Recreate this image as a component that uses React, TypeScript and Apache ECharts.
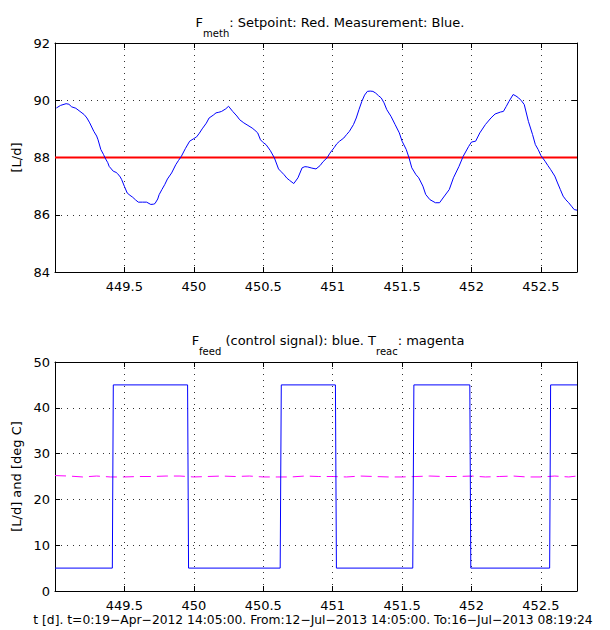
import React, { useEffect, useRef } from 'react';
import * as echarts from 'echarts';

const FONT = 'DejaVu Sans';

// x-axis extent (days since t=0)
const X_MIN = 449;
const X_MAX = 452.76;
const X_STEP = 0.5;

// top panel: F_meth
const TOP_Y_MIN = 84;
const TOP_Y_MAX = 92;
const TOP_Y_STEP = 2;
const setT = [449, 452.76];
const setV = [88, 88];
const measT = [
  449.01, 449.04, 449.08, 449.10, 449.12, 449.15, 449.18, 449.21, 449.23, 449.25,
  449.28, 449.30, 449.31, 449.33, 449.35, 449.36, 449.38, 449.39, 449.42, 449.44,
  449.45, 449.47, 449.48, 449.50, 449.52, 449.54, 449.56, 449.58, 449.60, 449.63,
  449.66, 449.69, 449.71, 449.72, 449.74, 449.75, 449.77, 449.79, 449.81, 449.84,
  449.87, 449.89, 449.91, 449.94, 449.97, 450.00, 450.02, 450.04, 450.06, 450.09,
  450.11, 450.14, 450.16, 450.18, 450.20, 450.23, 450.25, 450.28, 450.31, 450.33,
  450.36, 450.39, 450.42, 450.44, 450.46, 450.48, 450.50, 450.52, 450.55, 450.58,
  450.61, 450.63, 450.65, 450.67, 450.69, 450.72, 450.75, 450.78, 450.80, 450.82,
  450.85, 450.88, 450.91, 450.93, 450.96, 450.98, 451.01, 451.03, 451.05, 451.08,
  451.10, 451.12, 451.15, 451.17, 451.19, 451.21, 451.23, 451.25, 451.27, 451.29,
  451.31, 451.33, 451.35, 451.37, 451.39, 451.42, 451.45, 451.48, 451.50, 451.53,
  451.55, 451.57, 451.60, 451.62, 451.65, 451.67, 451.70, 451.74, 451.77, 451.80,
  451.84, 451.87, 451.91, 451.94, 451.98, 452.00, 452.03, 452.06, 452.10, 452.14,
  452.17, 452.21, 452.23, 452.25, 452.27, 452.30, 452.32, 452.34, 452.36, 452.38,
  452.41, 452.44, 452.46, 452.48, 452.50, 452.53, 452.55, 452.57, 452.60, 452.62,
  452.64, 452.66, 452.68, 452.70, 452.72, 452.74, 452.76,
];
const measV = [
  89.73, 89.82, 89.88, 89.86, 89.77, 89.72, 89.61, 89.50, 89.38, 89.21,
  88.91, 88.75, 88.62, 88.28, 88.10, 87.99, 87.82, 87.69, 87.52, 87.48,
  87.44, 87.32, 87.23, 86.99, 86.76, 86.68, 86.61, 86.52, 86.44, 86.44,
  86.44, 86.36, 86.37, 86.39, 86.55, 86.70, 86.88, 87.05, 87.25, 87.46,
  87.75, 87.90, 88.04, 88.32, 88.57, 88.66, 88.72, 88.85, 89.00, 89.20,
  89.38, 89.48, 89.56, 89.58, 89.61, 89.70, 89.79, 89.61, 89.45, 89.32,
  89.21, 89.12, 89.03, 88.95, 88.86, 88.62, 88.52, 88.45, 88.25, 87.99,
  87.60, 87.50, 87.40, 87.28, 87.20, 87.09, 87.29, 87.64, 87.68, 87.67,
  87.63, 87.60, 87.72, 87.85, 87.99, 88.15, 88.34, 88.48, 88.57, 88.68,
  88.80, 88.91, 89.15, 89.38, 89.68, 89.96, 90.18, 90.31, 90.32, 90.31,
  90.25, 90.16, 90.08, 89.91, 89.67, 89.44, 89.15, 88.86, 88.57, 88.28,
  87.99, 87.64, 87.40, 87.29, 87.00, 86.71, 86.53, 86.42, 86.42, 86.62,
  86.88, 87.29, 87.69, 88.04, 88.39, 88.54, 88.57, 88.86, 89.15, 89.38,
  89.52, 89.59, 89.61, 89.78, 89.96, 90.20, 90.15, 90.08, 89.98, 89.85,
  89.26, 88.80, 88.45, 88.28, 88.07, 87.87, 87.72, 87.58, 87.35, 87.11,
  86.88, 86.65, 86.52, 86.42, 86.30, 86.18, 86.16,
];

// bottom panel: F_feed (control) and T_reac
const BOT_Y_MIN = 0;
const BOT_Y_MAX = 50;
const BOT_Y_STEP = 10;
const feedT = [
  449.0, 449.413, 449.42, 449.955, 449.962, 450.622, 450.63, 451.02, 451.027,
  451.577, 451.585, 451.988, 451.995, 452.563, 452.57, 452.76,
];
const feedV = [5, 5, 45, 45, 5, 5, 45, 45, 5, 5, 45, 45, 5, 5, 45, 45];
const tempT = [
  449.0, 449.1, 449.2, 449.3, 449.4, 449.5, 449.6, 449.7, 449.8, 449.9,
  450.0, 450.1, 450.2, 450.3, 450.4, 450.5, 450.6, 450.7, 450.8, 450.9,
  451.0, 451.1, 451.2, 451.3, 451.4, 451.5, 451.6, 451.7, 451.8, 451.9,
  452.0, 452.1, 452.2, 452.3, 452.4, 452.5, 452.6, 452.7, 452.76,
];
const tempV = [
  25.2, 25.1, 24.9, 25.1, 24.9, 24.9, 25.0, 25.0, 25.1, 25.1,
  24.9, 25.0, 25.1, 25.0, 25.1, 24.9, 24.9, 24.9, 25.1, 25.0,
  25.0, 24.9, 25.1, 25.0, 24.9, 24.9, 25.0, 25.1, 25.0, 25.0,
  25.1, 24.9, 25.0, 25.1, 24.9, 24.9, 25.1, 24.9, 25.1,
];

const TOP_TITLE = '{m|F}{s|meth}{m|: Setpoint: Red. Measurement: Blue.}';
const BOT_TITLE = '{m|F}{s|feed}{m| (control signal): blue. T}{s|reac}{m|: magenta}';
const TOP_YNAME = '[L/d]';
const BOT_YNAME = '[L/d] and [deg C]';
const XNAME =
  't [d]. t=0:19\u2212Apr\u22122012 14:05:00. From:12\u2212Jul\u22122013 14:05:00. To:16\u2212Jul\u22122013 08:19:24';

const zip = (a: number[], b: number[]) => a.map((v, i) => [v, b[i]]);

const gridLine = { show: true, lineStyle: { type: [1, 5] as any, color: '#333', width: 1 } };
const axisLineStyle = { show: true, onZero: false, lineStyle: { color: '#000', width: 1 } };
const tickStyle = { show: true, inside: true, length: 5, lineStyle: { color: '#000', width: 1 } };
const labelFont = { color: '#000', fontFamily: FONT, fontSize: 13 };

function xAxes(gridIndex: number) {
  return [
    {
      type: 'value', gridIndex, position: 'bottom', min: X_MIN, max: X_MAX, interval: X_STEP,
      axisLine: axisLineStyle, axisTick: tickStyle,
      axisLabel: { ...labelFont, margin: 8, showMinLabel: false, showMaxLabel: false },
      splitLine: gridLine,
    },
    {
      type: 'value', gridIndex, position: 'top', min: X_MIN, max: X_MAX, interval: X_STEP,
      axisLine: axisLineStyle, axisTick: tickStyle,
      axisLabel: { show: false }, splitLine: { show: false },
    },
  ];
}

function yAxes(gridIndex: number, min: number, max: number, interval: number, name: string) {
  return [
    {
      type: 'value', gridIndex, position: 'left', min, max, interval,
      axisLine: axisLineStyle, axisTick: tickStyle,
      axisLabel: { ...labelFont, margin: 5 },
      splitLine: gridLine,
      name, nameLocation: 'middle', nameGap: 28, nameRotate: 90,
      nameTextStyle: { ...labelFont },
    },
    {
      type: 'value', gridIndex, position: 'right', min, max, interval,
      axisLine: axisLineStyle, axisTick: tickStyle,
      axisLabel: { show: false }, splitLine: { show: false },
    },
  ];
}

const richTitle = {
  m: { fontFamily: FONT, fontSize: 13, fill: '#000', lineHeight: 26, verticalAlign: 'top' },
  s: { fontFamily: FONT, fontSize: 10, fill: '#000', lineHeight: 26, verticalAlign: 'top', padding: [12, 0, 0, 0] },
};

const option: any = {
  animation: false,
  backgroundColor: '#fff',
  grid: [
    { left: 55, top: 43, width: 522, height: 229, containLabel: false },
    { left: 55, top: 362, width: 522, height: 229, containLabel: false },
  ],
  xAxis: [...xAxes(0), ...xAxes(1)],
  yAxis: [
    ...yAxes(0, TOP_Y_MIN, TOP_Y_MAX, TOP_Y_STEP, TOP_YNAME),
    ...yAxes(1, BOT_Y_MIN, BOT_Y_MAX, BOT_Y_STEP, BOT_YNAME),
  ],
  graphic: [
    {
      type: 'text', x: 330, y: 16, silent: true,
      style: { text: TOP_TITLE, align: 'center', verticalAlign: 'top', rich: richTitle },
    },
    {
      type: 'text', x: 328, y: 334, silent: true,
      style: { text: BOT_TITLE, align: 'center', verticalAlign: 'top', rich: richTitle },
    },
    {
      type: 'text', x: 313, y: 620, silent: true,
      style: { text: XNAME, align: 'center', verticalAlign: 'middle', fontFamily: FONT, fontSize: 12.3, fill: '#000' },
    },
  ],
  series: [
    {
      type: 'line', xAxisIndex: 0, yAxisIndex: 0, data: zip(setT, setV), showSymbol: false,
      lineStyle: { color: '#ff0000', width: 2 }, z: 3,
    },
    {
      type: 'line', xAxisIndex: 0, yAxisIndex: 0, data: zip(measT, measV), showSymbol: false,
      lineStyle: { color: '#0000ff', width: 1 }, z: 4,
    },
    {
      type: 'line', xAxisIndex: 2, yAxisIndex: 2, data: zip(feedT, feedV), showSymbol: false,
      lineStyle: { color: '#0000ff', width: 1 }, z: 4,
    },
    {
      type: 'line', xAxisIndex: 2, yAxisIndex: 2, data: zip(tempT, tempV), showSymbol: false,
      lineStyle: { color: '#ff00ff', width: 1, type: [11, 6] }, z: 3,
    },
  ],
};

export default function App() {
  const ref = useRef<HTMLDivElement>(null);
  useEffect(() => {
    document.body.style.margin = '0';
    const chart = echarts.init(ref.current!, null, { renderer: 'svg' });
    chart.setOption(option);
    return () => chart.dispose();
  }, []);
  return <div ref={ref} style={{ width: 610, height: 630 }} />;
}
